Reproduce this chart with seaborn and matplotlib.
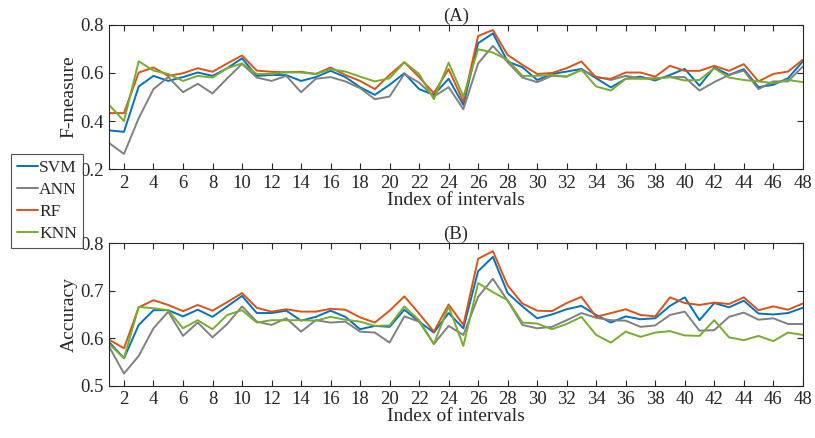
import numpy as np
import pandas as pd
import matplotlib
matplotlib.use('Agg')
import matplotlib.pyplot as plt
import seaborn as sns

# interval index 1..48
idx = list(range(1, 49))
models = ['SVM', 'ANN', 'RF', 'KNN']
colors = ['#0072BD', '#808080', '#D95319', '#77AC30']

# (A) F-measure
f_svm = [0.361, 0.355, 0.544, 0.588, 0.567, 0.583, 0.602, 0.588, 0.620, 0.661,
         0.588, 0.592, 0.591, 0.567, 0.583, 0.609, 0.583, 0.541, 0.509, 0.551,
         0.599, 0.533, 0.509, 0.576, 0.467, 0.724, 0.765, 0.648, 0.624, 0.571,
         0.596, 0.606, 0.617, 0.578, 0.540, 0.576, 0.585, 0.569, 0.592, 0.617,
         0.547, 0.623, 0.592, 0.616, 0.541, 0.551, 0.578, 0.648]
f_ann = [0.308, 0.263, 0.412, 0.533, 0.583, 0.520, 0.555, 0.515, 0.578, 0.638,
         0.581, 0.567, 0.588, 0.520, 0.576, 0.583, 0.565, 0.537, 0.491, 0.502,
         0.596, 0.560, 0.502, 0.541, 0.449, 0.640, 0.713, 0.645, 0.581, 0.562,
         0.588, 0.585, 0.613, 0.585, 0.571, 0.588, 0.578, 0.578, 0.583, 0.583,
         0.527, 0.562, 0.592, 0.610, 0.533, 0.565, 0.565, 0.627]
f_rf = [0.433, 0.433, 0.602, 0.623, 0.588, 0.599, 0.620, 0.605, 0.640, 0.673,
        0.610, 0.605, 0.603, 0.605, 0.596, 0.623, 0.592, 0.567, 0.533, 0.592,
        0.645, 0.583, 0.516, 0.616, 0.481, 0.754, 0.779, 0.675, 0.634, 0.596,
        0.600, 0.620, 0.648, 0.581, 0.576, 0.602, 0.602, 0.585, 0.630, 0.609,
        0.609, 0.630, 0.609, 0.637, 0.565, 0.596, 0.606, 0.655]
f_knn = [0.467, 0.400, 0.649, 0.610, 0.596, 0.567, 0.588, 0.581, 0.620, 0.640,
         0.596, 0.596, 0.603, 0.602, 0.596, 0.616, 0.606, 0.585, 0.565, 0.578,
         0.645, 0.596, 0.491, 0.643, 0.502, 0.699, 0.685, 0.655, 0.588, 0.588,
         0.592, 0.585, 0.613, 0.544, 0.527, 0.576, 0.576, 0.576, 0.583, 0.569,
         0.571, 0.620, 0.581, 0.571, 0.565, 0.558, 0.571, 0.562]

# (B) Accuracy
a_svm = [0.592, 0.558, 0.628, 0.659, 0.659, 0.646, 0.660, 0.645, 0.667, 0.689,
         0.653, 0.653, 0.658, 0.637, 0.645, 0.658, 0.645, 0.619, 0.626, 0.624,
         0.660, 0.635, 0.612, 0.653, 0.621, 0.741, 0.771, 0.695, 0.667, 0.642,
         0.650, 0.661, 0.668, 0.649, 0.633, 0.646, 0.640, 0.642, 0.668, 0.686,
         0.638, 0.674, 0.665, 0.679, 0.652, 0.650, 0.653, 0.664]
a_ann = [0.582, 0.526, 0.563, 0.621, 0.656, 0.605, 0.633, 0.602, 0.630, 0.667,
         0.635, 0.628, 0.642, 0.614, 0.638, 0.633, 0.635, 0.614, 0.612, 0.591,
         0.646, 0.635, 0.588, 0.626, 0.607, 0.687, 0.725, 0.679, 0.628, 0.621,
         0.624, 0.638, 0.653, 0.643, 0.638, 0.637, 0.624, 0.627, 0.649, 0.656,
         0.616, 0.617, 0.645, 0.654, 0.639, 0.642, 0.630, 0.630]
a_rf = [0.597, 0.579, 0.665, 0.680, 0.670, 0.657, 0.670, 0.658, 0.676, 0.695,
        0.664, 0.656, 0.661, 0.656, 0.656, 0.662, 0.660, 0.644, 0.633, 0.658,
        0.688, 0.652, 0.614, 0.671, 0.628, 0.767, 0.783, 0.711, 0.673, 0.658,
        0.657, 0.674, 0.687, 0.645, 0.653, 0.661, 0.649, 0.646, 0.686, 0.674,
        0.670, 0.675, 0.672, 0.686, 0.659, 0.667, 0.660, 0.673]
a_knn = [0.588, 0.558, 0.666, 0.663, 0.659, 0.621, 0.638, 0.619, 0.649, 0.659,
         0.633, 0.638, 0.638, 0.638, 0.637, 0.645, 0.639, 0.635, 0.626, 0.627,
         0.667, 0.638, 0.588, 0.667, 0.584, 0.716, 0.697, 0.680, 0.633, 0.631,
         0.619, 0.630, 0.645, 0.607, 0.591, 0.614, 0.603, 0.612, 0.615, 0.606,
         0.605, 0.638, 0.602, 0.596, 0.605, 0.594, 0.612, 0.607]

def long_df(series):
    rows = []
    for name, vals in zip(models, series):
        rows.append(pd.DataFrame({'idx': idx, 'val': vals, 'model': name}))
    return pd.concat(rows, ignore_index=True)

df_f = long_df([f_svm, f_ann, f_rf, f_knn])
df_a = long_df([a_svm, a_ann, a_rf, a_knn])

sns.set_style('ticks')
plt.rcParams['font.family'] = ['Liberation Serif', 'DejaVu Serif']

fig = plt.figure(figsize=(8.15, 4.38), dpi=100)
ax1 = fig.add_axes([0.134, 0.614, 0.851, 0.329])
ax2 = fig.add_axes([0.134, 0.119, 0.851, 0.326])

pal = dict(zip(models, colors))
sns.lineplot(data=df_f, x='idx', y='val', hue='model', palette=pal,
             linewidth=1.4, ax=ax1, legend=False)
sns.lineplot(data=df_a, x='idx', y='val', hue='model', palette=pal,
             linewidth=1.4, ax=ax2, legend=False)

for ax, title, ylab, yl, yt in [
        (ax1, '(A)', 'F-measure', (0.2, 0.8), [0.2, 0.4, 0.6, 0.8]),
        (ax2, '(B)', 'Accuracy', (0.5, 0.8), [0.5, 0.6, 0.7, 0.8])]:
    ax.set_xlim(1, 48)
    ax.set_ylim(*yl)
    ax.set_xticks(range(2, 49, 2))
    ax.set_yticks(yt)
    ax.set_yticklabels([f'{v:.1f}' for v in yt])
    ax.set_title(title, fontsize=13.5, pad=3)
    ax.set_ylabel(ylab, fontsize=14, labelpad=2)
    ax.set_xlabel('Index of intervals', fontsize=14, labelpad=0)
    ax.tick_params(direction='in', top=True, right=True, labelsize=13.5,
                   length=4, width=0.8, colors='#262626', pad=4)
    for s in ax.spines.values():
        s.set_visible(True)
        s.set_color('#262626')
        s.set_linewidth(0.8)

handles = [plt.Line2D([], [], color=c, linewidth=1.4) for c in colors]
leg = fig.legend(handles, models, loc='lower left',
                 bbox_to_anchor=(0.013, 0.434), fontsize=12.5,
                 frameon=True, fancybox=False, edgecolor='#262626',
                 handlelength=1.2, handletextpad=0.1, borderpad=0.35,
                 labelspacing=0.33, borderaxespad=0)
leg.get_frame().set_linewidth(0.8)

fig.savefig('out.png', dpi=100)
